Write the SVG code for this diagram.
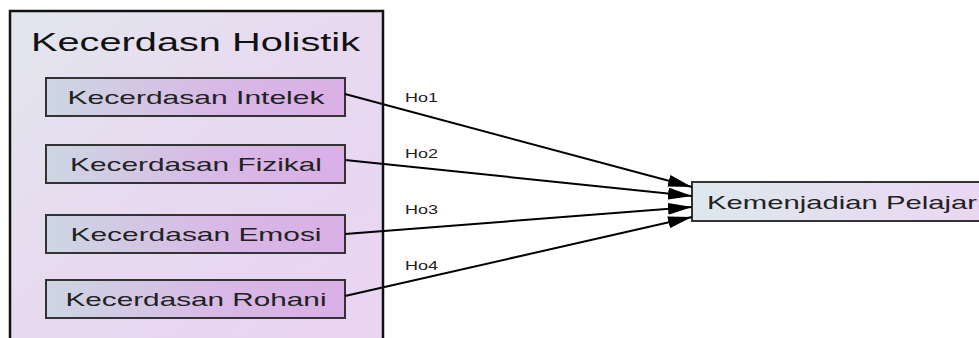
<svg xmlns="http://www.w3.org/2000/svg" width="979" height="338" viewBox="0 0 979 338">
<defs>
<linearGradient id="gOuter" x1="0" y1="0" x2="1" y2="1">
<stop offset="0" stop-color="#e2e6ee"/>
<stop offset="0.5" stop-color="#e8d9f0"/>
<stop offset="1" stop-color="#ead4f2"/>
</linearGradient>
<linearGradient id="gNode" x1="0" y1="0" x2="1" y2="0">
<stop offset="0" stop-color="#cdd6e2"/>
<stop offset="0.6" stop-color="#d8b8e6"/>
<stop offset="1" stop-color="#d9afe6"/>
</linearGradient>
<linearGradient id="gTarget" x1="0" y1="0" x2="1" y2="0">
<stop offset="0" stop-color="#dde8ec"/>
<stop offset="1" stop-color="#ebd6f2"/>
</linearGradient>
<marker id="arr" viewBox="0 0 24 12" refX="24" refY="6" markerWidth="24" markerHeight="12" markerUnits="userSpaceOnUse" orient="auto">
<path d="M0,0 L24,6 L0,12 Z" fill="#000"/>
</marker>
<style>
.nodebox{fill:url(#gNode);stroke:#333;stroke-width:2}
.lbl{font-family:"Liberation Sans",Arial,sans-serif;font-size:19px;fill:#222;text-anchor:middle}
.elbl{font-family:"Liberation Sans",Arial,sans-serif;font-size:13px;fill:#222}
.edge{stroke:#000;stroke-width:2;fill:none;marker-end:url(#arr)}
</style>
</defs>
<rect width="979" height="338" fill="#fff"/>
<g id="cluster">
<rect x="10" y="11" width="373" height="340" fill="url(#gOuter)" stroke="#111" stroke-width="2.5"/>
<text x="31" y="51" font-family="'Liberation Sans',Arial,sans-serif" font-size="26" fill="#111" textLength="329" lengthAdjust="spacingAndGlyphs">Kecerdasn Holistik</text>
</g>
<g id="n1"><rect class="nodebox" x="46" y="78" width="299" height="38"/><text class="lbl" x="196" y="104" textLength="257" lengthAdjust="spacingAndGlyphs">Kecerdasan Intelek</text></g>
<g id="n2"><rect class="nodebox" x="46" y="145" width="299" height="38"/><text class="lbl" x="196" y="171" textLength="252" lengthAdjust="spacingAndGlyphs">Kecerdasan Fizikal</text></g>
<g id="n3"><rect class="nodebox" x="46" y="215" width="299" height="38"/><text class="lbl" x="196" y="241" textLength="251" lengthAdjust="spacingAndGlyphs">Kecerdasan Emosi</text></g>
<g id="n4"><rect class="nodebox" x="46" y="280" width="299" height="38"/><text class="lbl" x="196" y="306" textLength="261" lengthAdjust="spacingAndGlyphs">Kecerdasan Rohani</text></g>
<g id="target"><rect x="692" y="182" width="300" height="39" fill="url(#gTarget)" stroke="#333" stroke-width="2"/><text x="707" y="209" font-family="'Liberation Sans',Arial,sans-serif" font-size="19" fill="#222" textLength="270" lengthAdjust="spacingAndGlyphs">Kemenjadian Pelajar</text></g>
<g id="edges">
<line class="edge" x1="345" y1="94" x2="692" y2="187"/>
<line class="edge" x1="345" y1="160" x2="692" y2="196"/>
<line class="edge" x1="345" y1="234" x2="692" y2="207"/>
<line class="edge" x1="345" y1="296" x2="692" y2="217"/>
<text class="elbl" x="405" y="102" textLength="33" lengthAdjust="spacingAndGlyphs">Ho1</text>
<text class="elbl" x="405" y="158" textLength="33" lengthAdjust="spacingAndGlyphs">Ho2</text>
<text class="elbl" x="405" y="214" textLength="33" lengthAdjust="spacingAndGlyphs">Ho3</text>
<text class="elbl" x="405" y="270" textLength="33" lengthAdjust="spacingAndGlyphs">Ho4</text>
</g>
</svg>
